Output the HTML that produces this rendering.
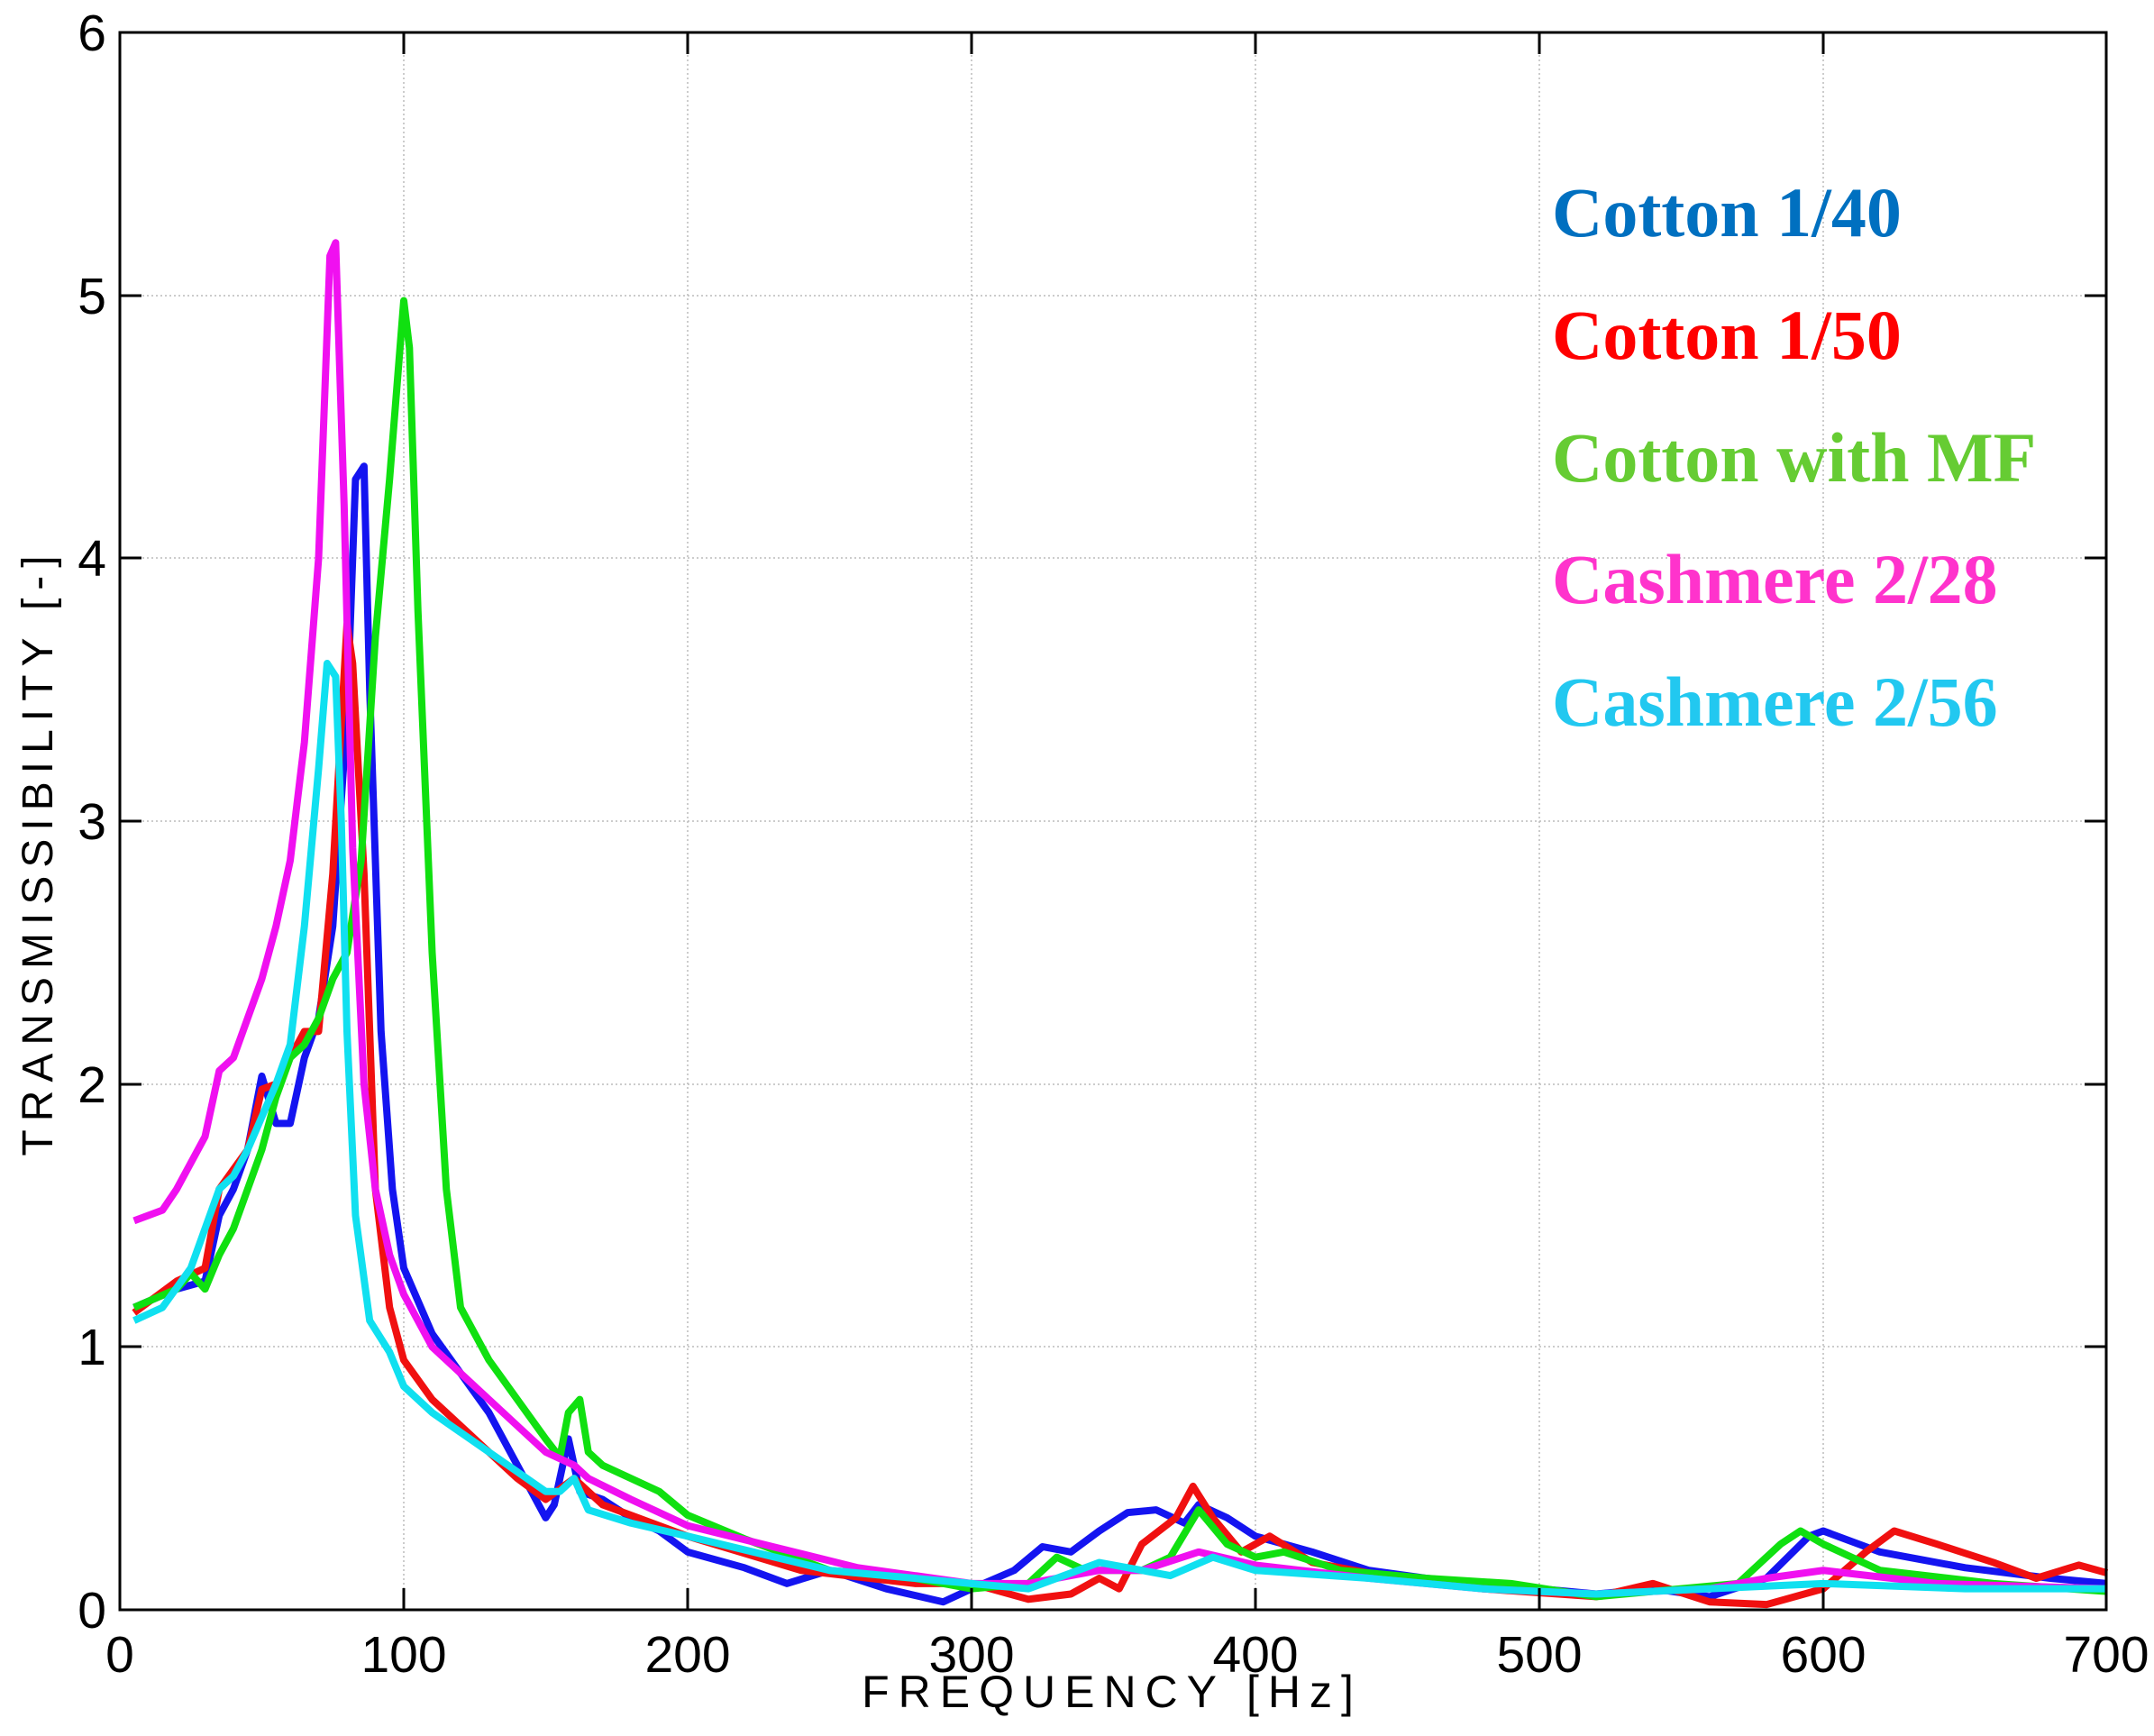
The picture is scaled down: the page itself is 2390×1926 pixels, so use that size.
<!DOCTYPE html>
<html><head><meta charset="utf-8"><style>body{margin:0;background:#fff}svg{display:block}</style></head><body>
<svg xmlns="http://www.w3.org/2000/svg" width="2390" height="1926" viewBox="0 0 2390 1926">
<rect width="2390" height="1926" fill="#fff"/>
<g stroke="#bbb" stroke-width="1.5" stroke-dasharray="2,3">
<line x1="448" y1="36" x2="448" y2="1786"/><line x1="763" y1="36" x2="763" y2="1786"/><line x1="1078" y1="36" x2="1078" y2="1786"/><line x1="1393" y1="36" x2="1393" y2="1786"/><line x1="1708" y1="36" x2="1708" y2="1786"/><line x1="2023" y1="36" x2="2023" y2="1786"/>
<line x1="133" y1="1494" x2="2337" y2="1494"/><line x1="133" y1="1203" x2="2337" y2="1203"/><line x1="133" y1="911" x2="2337" y2="911"/><line x1="133" y1="619" x2="2337" y2="619"/><line x1="133" y1="328" x2="2337" y2="328"/>
</g>
<g fill="none" stroke-width="8" stroke-linejoin="round" transform="matrix(3.15 0 0 -291.67 133 1786)">
<polyline vector-effect="non-scaling-stroke" stroke="#1414F0" points="5,1.15 20,1.22 30,1.25 35,1.5 40,1.6 45,1.75 50,2.03 55,1.85 60,1.85 65,2.1 70,2.25 75,2.6 80,3.4 83,4.3 86,4.35 88,3.5 92,2.2 96,1.6 100,1.3 110,1.05 120,0.9 130,0.75 140,0.55 150,0.35 153,0.4 158,0.65 162,0.45 170,0.42 180,0.35 190,0.3 200,0.22 220,0.16 235,0.1 250,0.15 270,0.08 290,0.03 300,0.08 315,0.15 325,0.24 335,0.22 345,0.3 355,0.37 365,0.38 375,0.33 380,0.4 390,0.35 400,0.28 420,0.22 440,0.15 460,0.12 480,0.1 500,0.08 520,0.06 540,0.08 560,0.05 580,0.12 595,0.28 600,0.3 620,0.22 650,0.16 680,0.12 700,0.1"/>
<polyline vector-effect="non-scaling-stroke" stroke="#F01010" points="5,1.13 20,1.25 30,1.3 35,1.6 45,1.75 50,1.98 55,2.0 60,2.1 65,2.2 70,2.2 75,2.8 80,3.75 82,3.6 86,2.8 90,1.6 95,1.15 100,0.95 110,0.8 120,0.7 140,0.5 150,0.42 160,0.5 170,0.4 200,0.28 240,0.15 280,0.1 300,0.1 320,0.04 335,0.06 345,0.12 352,0.08 360,0.25 372,0.35 378,0.47 385,0.35 395,0.22 405,0.28 420,0.18 450,0.12 480,0.08 520,0.05 540,0.1 560,0.03 580,0.02 600,0.08 615,0.22 625,0.3 640,0.25 660,0.18 675,0.12 690,0.17 700,0.14"/>
<polyline vector-effect="non-scaling-stroke" stroke="#10E010" points="5,1.15 20,1.22 25,1.28 30,1.22 35,1.35 40,1.45 45,1.6 50,1.75 55,1.95 60,2.1 65,2.15 70,2.25 75,2.4 80,2.5 85,2.85 90,3.7 95,4.3 100,4.98 102,4.8 105,3.8 110,2.5 115,1.6 120,1.15 130,0.95 140,0.8 150,0.65 155,0.58 158,0.75 162,0.8 165,0.6 170,0.55 190,0.45 200,0.36 220,0.27 250,0.15 280,0.12 300,0.08 320,0.1 330,0.2 340,0.15 360,0.15 370,0.2 380,0.38 390,0.25 400,0.2 410,0.22 430,0.15 460,0.12 490,0.1 520,0.05 550,0.08 570,0.1 585,0.25 592,0.3 600,0.25 620,0.15 660,0.1 700,0.07"/>
<polyline vector-effect="non-scaling-stroke" stroke="#F010F0" points="5,1.48 15,1.52 20,1.6 25,1.7 30,1.8 35,2.05 40,2.1 45,2.25 50,2.4 55,2.6 60,2.85 65,3.3 70,4.0 74,5.15 76,5.2 79,4.2 82,2.9 86,2.0 90,1.6 95,1.35 100,1.2 110,1.0 130,0.8 150,0.6 160,0.55 165,0.5 180,0.42 200,0.32 230,0.24 260,0.16 300,0.1 320,0.1 345,0.15 360,0.15 380,0.22 400,0.17 440,0.12 480,0.08 520,0.06 560,0.08 580,0.12 600,0.15 640,0.1 700,0.08"/>
<polyline vector-effect="non-scaling-stroke" stroke="#10E0F0" points="5,1.1 15,1.15 25,1.3 30,1.45 35,1.6 40,1.65 45,1.75 55,2.0 60,2.15 65,2.6 70,3.2 73,3.6 76,3.55 78,3.0 80,2.2 83,1.5 88,1.1 95,0.98 100,0.85 110,0.75 130,0.6 150,0.45 155,0.45 160,0.5 165,0.38 180,0.33 200,0.28 250,0.15 280,0.12 300,0.1 320,0.08 345,0.18 370,0.13 385,0.2 400,0.15 440,0.12 480,0.08 520,0.06 560,0.08 600,0.1 650,0.08 700,0.08"/>
</g>
<rect x="133" y="36" width="2204" height="1750" fill="none" stroke="#000" stroke-width="3"/>
<g stroke="#000" stroke-width="3">
<path d="M448 1786v-24M763 1786v-24M1078 1786v-24M1393 1786v-24M1708 1786v-24M2023 1786v-24M448 36v24M763 36v24M1078 36v24M1393 36v24M1708 36v24M2023 36v24"/>
<path d="M133 1494h24M133 1203h24M133 911h24M133 619h24M133 328h24M2337 1494h-24M2337 1203h-24M2337 911h-24M2337 619h-24M2337 328h-24"/>
</g>
<g font-family="Liberation Sans, sans-serif" font-size="57" fill="#000">
<g text-anchor="end"><text x="118" y="1806">0</text><text x="118" y="1514">1</text><text x="118" y="1223">2</text><text x="118" y="931">3</text><text x="118" y="639">4</text><text x="118" y="348">5</text><text x="118" y="56">6</text></g>
<g text-anchor="middle"><text x="133" y="1855">0</text><text x="448" y="1855">100</text><text x="763" y="1855">200</text><text x="1078" y="1855">300</text><text x="1393" y="1855">400</text><text x="1708" y="1855">500</text><text x="2023" y="1855">600</text><text x="2337" y="1855">700</text></g>
<text x="1234" y="1894" text-anchor="middle" font-size="50" letter-spacing="10">FREQUENCY [Hz]</text>
<text transform="translate(58 945) rotate(-90)" text-anchor="middle" font-size="48" letter-spacing="9">TRANSMISSIBILITY [-]</text>
</g>
<g font-family="Liberation Serif, serif" font-weight="bold" font-size="78">
<text x="1722" y="262" fill="#0070C0">Cotton 1/40</text>
<text x="1722" y="398" fill="#FF0000">Cotton 1/50</text>
<text x="1722" y="534" fill="#66CC33">Cotton with MF</text>
<text x="1722" y="669" fill="#FF33CC">Cashmere 2/28</text>
<text x="1722" y="805" fill="#22C8F0">Cashmere 2/56</text>
</g>
</svg>
</body></html>
